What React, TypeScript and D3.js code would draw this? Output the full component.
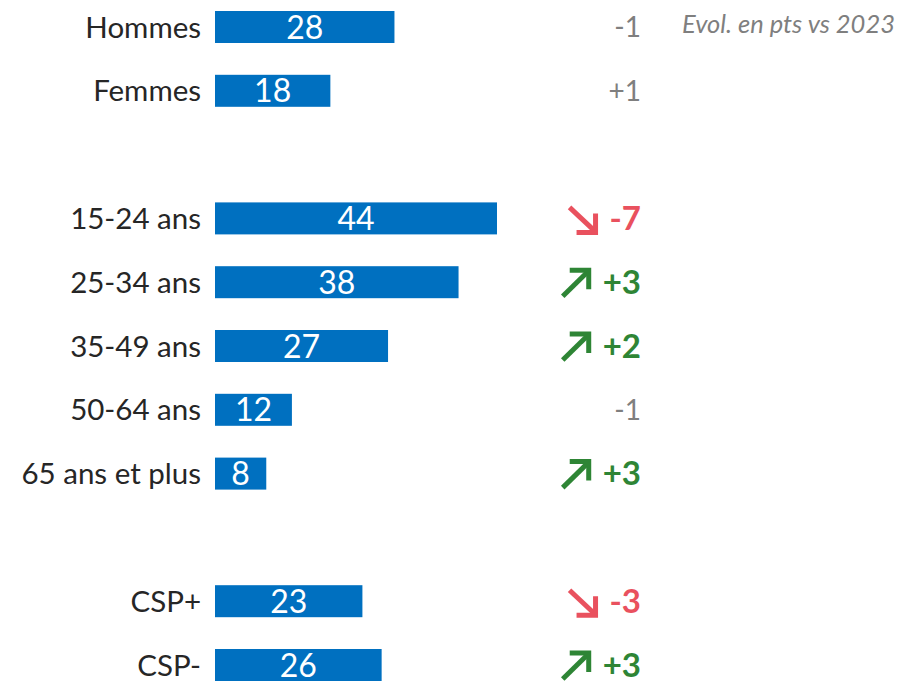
import React, { useEffect, useRef } from "react";
import * as d3 from "d3";

const categories = ["Hommes", "Femmes", "15-24 ans", "25-34 ans", "35-49 ans", "50-64 ans", "65 ans et plus", "CSP+", "CSP-"];
const slots = [0, 1, 3, 4, 5, 6, 7, 9, 10];
const values = [28, 18, 44, 38, 27, 12, 8, 23, 26];
const evolutions = [-1, 1, -7, 3, 2, -1, 3, -3, 3];
const significant = [false, false, true, true, true, false, true, true, true];
const noteText = "Evol. en pts vs 2023";

const W = 897;
const H = 681;
const FONT = "Lato, 'Open Sans', sans-serif";
const BLUE = "#0070c0";
const RED = "#e9515e";
const GREEN = "#2e8535";
const GRAY = "#7f7f7f";

export default function App() {
  const ref = useRef<SVGSVGElement>(null);

  useEffect(() => {
    const svg = d3.select(ref.current);
    svg.selectAll("*").remove();

    const x = d3.scaleLinear().domain([0, 44]).range([215, 497]);
    const y = d3.scaleLinear().domain([0, 10]).range([27, 665]);
    const barH = 32;

    const rows = categories.map((c, i) => ({
      c,
      slot: slots[i],
      v: values[i],
      e: evolutions[i],
      s: significant[i],
    }));

    const g = svg.append("g");

    g.selectAll("text.cat")
      .data(rows)
      .join("text")
      .attr("class", "cat")
      .attr("x", 201)
      .attr("y", (d) => y(d.slot))
      .attr("dy", "0.36em")
      .attr("text-anchor", "end")
      .attr("font-family", FONT)
      .attr("font-size", 29.5)
      .attr("fill", "#262626")
      .text((d) => d.c);

    g.selectAll("rect.bar")
      .data(rows)
      .join("rect")
      .attr("class", "bar")
      .attr("x", x(0))
      .attr("y", (d) => y(d.slot) - barH / 2)
      .attr("width", (d) => x(d.v) - x(0))
      .attr("height", barH)
      .attr("fill", BLUE);

    g.selectAll("text.val")
      .data(rows)
      .join("text")
      .attr("class", "val")
      .attr("x", (d) => (x(0) + x(d.v)) / 2)
      .attr("y", (d) => y(d.slot))
      .attr("dy", "0.36em")
      .attr("text-anchor", "middle")
      .attr("font-family", FONT)
      .attr("font-size", 32)
      .attr("fill", "#ffffff")
      .text((d) => String(d.v));

    const evoX = 641;
    const fmt = (e: number) => (e > 0 ? "+" + e : String(e));
    rows.forEach((d) => {
      const cy = y(d.slot);
      const color = d.s ? (d.e > 0 ? GREEN : RED) : GRAY;
      const t = g
        .append("text")
        .attr("x", evoX)
        .attr("y", cy)
        .attr("dy", "0.36em")
        .attr("text-anchor", "end")
        .attr("font-family", FONT)
        .attr("font-size", d.s ? 33 : 28)
        .attr("font-weight", d.s ? 700 : 400)
        .attr("fill", color)
        .text(fmt(d.e));
      if (d.s) {
        const w = (t.node() as SVGTextElement).getComputedTextLength();
        const right = evoX - w - 14;
        const left = right - 26;
        const arm = 19;
        let shaft: string;
        let head: string;
        if (d.e > 0) {
          shaft = `M${left},${cy + 14} L${right - 1.5},${cy - 10}`;
          head = `M${right - arm},${cy - 12} L${right},${cy - 12} L${right},${cy - 12 + arm}`;
        } else {
          shaft = `M${left},${cy - 11} L${right - 1.5},${cy + 12}`;
          head = `M${right - arm},${cy + 14} L${right},${cy + 14} L${right},${cy + 14 - arm}`;
        }
        g.append("path")
          .attr("d", shaft)
          .attr("stroke", color)
          .attr("stroke-width", 5)
          .attr("fill", "none");
        g.append("path")
          .attr("d", head)
          .attr("stroke", color)
          .attr("stroke-width", 5)
          .attr("stroke-linejoin", "miter")
          .attr("fill", "none");
      }
    });

    g.append("text")
      .attr("x", 895)
      .attr("y", 33)
      .attr("text-anchor", "end")
      .attr("font-family", FONT)
      .attr("font-style", "italic")
      .attr("font-size", 25.5)
      .attr("fill", GRAY)
      .text(noteText);
  }, []);

  return (
    <svg
      ref={ref}
      width={W}
      height={H}
      style={{ position: "absolute", left: 0, top: 0, background: "#ffffff" }}
    />
  );
}
